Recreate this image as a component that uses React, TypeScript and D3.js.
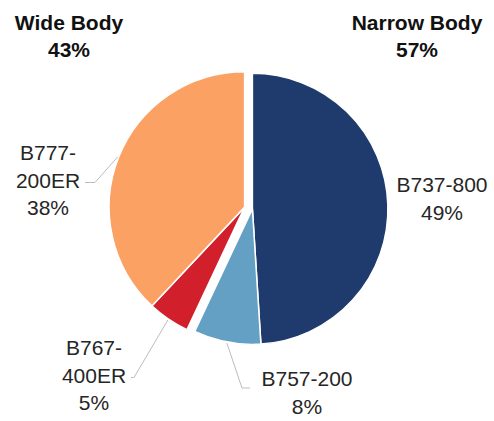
import * as d3 from "d3";
import React from "react";

// fleet split by aircraft type
const models = ["B737-800", "B757-200", "B767-400ER", "B777-200ER"];
const shares = [49, 8, 5, 38];
const modelGroup = ["Narrow Body", "Narrow Body", "Wide Body", "Wide Body"];
const labelLines = [["B737-800"], ["B757-200"], ["B767-", "400ER"], ["B777-", "200ER"]];

const groupNames = ["Wide Body", "Narrow Body"];
const groupShares = [43, 57];

const colors: Record<string, string> = {
  "B737-800": "#1f3a6d",
  "B757-200": "#64a0c4",
  "B767-400ER": "#d1202c",
  "B777-200ER": "#fba163",
};

const W = 494;
const H = 421;
const cx = 248.5;
const cy = 208;
const radius = 135.5;
const explode = 4;

// where each label block is anchored (center x, first baseline)
const labelLayout: Record<string, { x: number; y: number; leader: boolean; tick: number }> = {
  "B737-800": { x: 442, y: 192, leader: false, tick: 0 },
  "B757-200": { x: 307, y: 386, leader: true, tick: 8 },
  "B767-400ER": { x: 94, y: 355, leader: true, tick: -3 },
  "B777-200ER": { x: 48, y: 160, leader: true, tick: -10 },
};
const groupLayout: Record<string, number> = { "Wide Body": 69, "Narrow Body": 417 };

export default function App() {
  const pie = d3.pie<number>().sort(null).value((d) => d);
  const arcs = pie(shares);
  const arc = d3.arc<d3.PieArcDatum<number>>().innerRadius(0).outerRadius(radius);

  // offset of each group (narrow / wide) along its mid angle
  const groupOffset: Record<string, [number, number]> = {};
  groupNames.forEach((g) => {
    const idx = models.map((_, i) => i).filter((i) => modelGroup[i] === g);
    const a0 = d3.min(idx, (i) => arcs[i].startAngle)!;
    const a1 = d3.max(idx, (i) => arcs[i].endAngle)!;
    const mid = (a0 + a1) / 2;
    groupOffset[g] = [Math.sin(mid) * explode, -Math.cos(mid) * explode];
  });

  const lineH = 27.5;
  const font = "'Liberation Sans', Arial, sans-serif";

  return (
    <svg width={W} height={H} style={{ position: "absolute", left: 0, top: 0, background: "#fff" }}>
      {arcs.map((a, i) => {
        const [ox, oy] = groupOffset[modelGroup[i]];
        return (
          <path
            key={models[i]}
            d={arc(a)!}
            transform={`translate(${cx + ox},${cy + oy})`}
            fill={colors[models[i]]}
            stroke="#fff"
            strokeWidth={1.5}
            strokeLinejoin="round"
          />
        );
      })}
      {arcs.map((a, i) => {
        const m = models[i];
        const lay = labelLayout[m];
        const lines = [...labelLines[i], `${shares[i]}%`];
        const [ox, oy] = groupOffset[modelGroup[i]];
        const mid = (a.startAngle + a.endAngle) / 2;
        const px = cx + ox + Math.sin(mid) * (radius + 1);
        const py = cy + oy - Math.cos(mid) * (radius + 1);
        const ly = lay.y + (lines.length === 3 ? lineH - 5 : 2);
        let leaderPath = "";
        if (lay.leader) {
          if (lay.tick > 0) {
            const ex = lay.x - 57;
            leaderPath = `M${px},${py}L${ex - lay.tick},${ly}L${ex},${ly}`;
          } else {
            const ex = lay.x + 37;
            leaderPath = `M${px},${py}L${ex - lay.tick},${ly}L${ex},${ly}`;
          }
        }
        return (
          <g key={m}>
            {lay.leader && <path d={leaderPath} fill="none" stroke="#bdbdbd" strokeWidth={1} />}
            <text x={lay.x} y={lay.y} textAnchor="middle" fontFamily={font} fontSize={21} fill="#262626">
              {lines.map((t, j) => (
                <tspan key={j} x={lay.x} y={lay.y + j * lineH}>
                  {t}
                </tspan>
              ))}
            </text>
          </g>
        );
      })}
      {groupNames.map((g, i) => (
        <text
          key={g}
          x={groupLayout[g]}
          textAnchor="middle"
          fontFamily={font}
          fontSize={21}
          fontWeight="bold"
          fill="#111"
        >
          <tspan x={groupLayout[g]} y={30}>
            {g}
          </tspan>
          <tspan x={groupLayout[g]} y={57}>
            {groupShares[i]}%
          </tspan>
        </text>
      ))}
    </svg>
  );
}
